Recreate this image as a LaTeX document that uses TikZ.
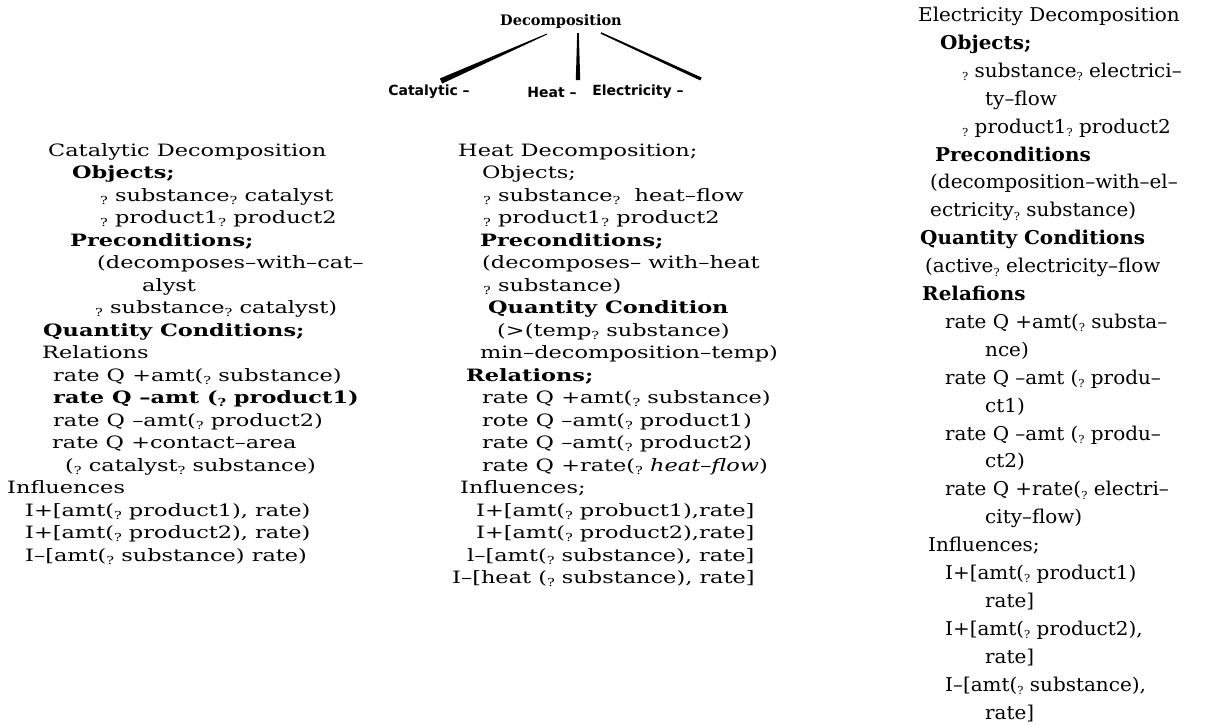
\documentclass[tikz,border=0pt]{standalone}
\usepackage{fontspec}
\setmainfont{DejaVu Serif}
\setsansfont{DejaVu Sans}
\usetikzlibrary{calc}
\newcommand\qm{\raisebox{-0.35ex}{\fontsize{11}{11}\selectfont ?}}
\newcommand\cl[4]{\node[txt] (#1) at (#2,{156+22.5*#3}) {\scalebox{1.32}[1]{#4}};}
\newcommand\el[4]{\node[etxt] (#1) at (#2,{21.5+27.9*#3}) {\scalebox{1.05}[1]{#4}};}
\begin{document}
\begin{tikzpicture}[x=1pt,y=-1pt,
  txt/.style={anchor=base west,inner sep=0pt,font=\fontsize{17}{20}\selectfont},
  etxt/.style={anchor=base west,inner sep=0pt,font=\fontsize{19}{22}\selectfont},
  lbl/.style={inner sep=0pt,font=\sffamily\bfseries\fontsize{14}{16}\selectfont},
  wedge/.style={fill=black}]
\useasboundingbox[fill=white] (0,0) rectangle (1208,724);
% tree
\node[inner sep=0pt,font=\bfseries\fontsize{14.5}{17}\selectfont] (dec) at (561,21) {Decomposition};
\node[lbl] (cat) at (429,92) {Catalytic –};
\node[lbl] (heat) at (552,92) {Heat –};
\node[lbl] (elec) at (638,92) {Electricity –};
\coordinate (a1) at (547,34); \coordinate (a2) at (441,81);
\coordinate (b1) at (578,33); \coordinate (b2) at (578,80);
\coordinate (c1) at (601,33); \coordinate (c2) at (701,79);
\fill[wedge] ($(a1)!0.5pt!90:(a2)$) -- ($(a1)!0.5pt!-90:(a2)$) -- ($(a2)!2.8pt!90:(a1)$) -- ($(a2)!2.8pt!-90:(a1)$) -- cycle;
\fill[wedge] ($(b1)!0.8pt!90:(b2)$) -- ($(b1)!0.8pt!-90:(b2)$) -- ($(b2)!2.2pt!90:(b1)$) -- ($(b2)!2.2pt!-90:(b1)$) -- cycle;
\fill[wedge] ($(c1)!0.8pt!90:(c2)$) -- ($(c1)!0.8pt!-90:(c2)$) -- ($(c2)!1.6pt!90:(c1)$) -- ($(c2)!1.6pt!-90:(c1)$) -- cycle;
% Catalytic column
\cl{c0}{48}{0}{Catalytic Decomposition}
\cl{c1}{72}{1}{\textbf{Objects;}}
\cl{c2}{100}{2}{\qm\ substance\qm\ catalyst}
\cl{c3}{100}{3}{\qm\ product1\qm\ product2}
\cl{c4}{70}{4}{\textbf{Preconditions;}}
\cl{c5}{97}{5}{(decomposes–with–cat–}
\cl{c6}{142}{6}{alyst}
\cl{c7}{95}{7}{\qm\ substance\qm\ catalyst)}
\cl{c8}{43}{8}{\textbf{Quantity Conditions;}}
\cl{c9}{42}{9}{Relations}
\cl{c10}{53}{10}{rate Q +amt(\qm\ substance)}
\cl{c11}{53}{11}{\textbf{rate Q –amt (\qm\ product1)}}
\cl{c12}{53}{12}{rate Q –amt(\qm\ product2)}
\cl{c13}{52}{13}{rate Q +contact–area}
\cl{c14}{65}{14}{(\qm\ catalyst\qm\ substance)}
\cl{c15}{7}{15}{Influences}
\cl{c16}{25}{16}{I+[amt(\qm\ product1), rate)}
\cl{c17}{25}{17}{I+[amt(\qm\ product2), rate)}
\cl{c18}{25}{18}{I–[amt(\qm\ substance) rate)}
% Heat column
\cl{h0}{458}{0}{Heat Decomposition;}
\cl{h1}{482}{1}{Objects;}
\cl{h2}{483}{2}{\qm\ substance\qm\ \ heat–flow}
\cl{h3}{483}{3}{\qm\ product1\qm\ product2}
\cl{h4}{480}{4}{\textbf{Preconditions;}}
\cl{h5}{482}{5}{(decomposes– with–heat}
\cl{h6}{483}{6}{\qm\ substance)}
\cl{h7}{488}{7}{\textbf{Quantity Condition}}
\cl{h8}{497}{8}{(>(temp\qm\ substance)}
\cl{h9}{480}{9}{min–decomposition–temp)}
\cl{h10}{466}{10}{\textbf{Relations;}}
\cl{h11}{482}{11}{rate Q +amt(\qm\ substance)}
\cl{h12}{482}{12}{rote Q –amt(\qm\ product1)}
\cl{h13}{482}{13}{rate Q –amt(\qm\ product2)}
\cl{h14}{482}{14}{rate Q +rate(\qm\ \textit{heat–flow})}
\cl{h15}{460}{15}{Influences;}
\cl{h16}{476}{16}{I+[amt(\qm\ probuct1),rate]}
\cl{h17}{476}{17}{I+[amt(\qm\ product2),rate]}
\cl{h18}{467}{18}{l–[amt(\qm\ substance), rate]}
\cl{h19}{452}{19}{I–[heat (\qm\ substance), rate]}
% Electricity column
\el{e0}{918}{0}{Electricity Decomposition}
\el{e1}{940}{1}{\textbf{Objects;}}
\el{e2}{962}{2}{\qm\ substance\qm\ electrici–}
\el{e3}{985}{3}{ty–flow}
\el{e4}{962}{4}{\qm\ product1\qm\ product2}
\el{e5}{935}{5}{\textbf{Preconditions}}
\el{e6}{930}{6}{(decomposition–with–el–}
\el{e7}{930}{7}{ectricity\qm\ substance)}
\el{e8}{920}{8}{\textbf{Quantity Conditions}}
\el{e9}{925}{9}{(active\qm\ electricity–flow}
\el{e10}{922}{10}{\textbf{Relafions}}
\el{e11}{945}{11}{rate Q +amt(\qm\ substa–}
\el{e12}{985}{12}{nce)}
\el{e13}{945}{13}{rate Q –amt (\qm\ produ–}
\el{e14}{985}{14}{ct1)}
\el{e15}{945}{15}{rate Q –amt (\qm\ produ–}
\el{e16}{985}{16}{ct2)}
\el{e17}{945}{17}{rate Q +rate(\qm\ electri–}
\el{e18}{985}{18}{city–flow)}
\el{e19}{928}{19}{Influences;}
\el{e20}{945}{20}{I+[amt(\qm\ product1)}
\el{e21}{985}{21}{rate]}
\el{e22}{945}{22}{I+[amt(\qm\ product2),}
\el{e23}{985}{23}{rate]}
\el{e24}{945}{24}{I–[amt(\qm\ substance),}
\el{e25}{985}{25}{rate]}
\end{tikzpicture}
\end{document}
